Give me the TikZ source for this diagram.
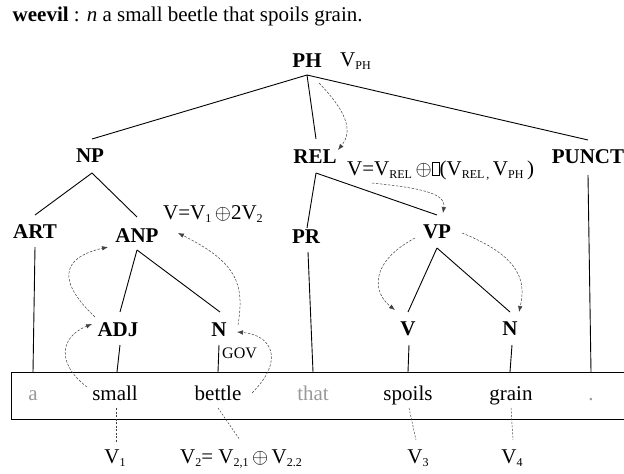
\documentclass[tikz,border=0pt]{standalone}
\usepackage{fontspec}
\setmainfont{Liberation Serif}
\usetikzlibrary{arrows.meta}
\newcommand\sbs[1]{\raisebox{-3pt}{\fontsize{12}{12}\selectfont #1}}
\newcommand\ebox{{\setlength\fboxsep{0pt}\setlength\fboxrule{0.5pt}\fbox{\rule{0pt}{13pt}\hspace{7pt}}}}
\begin{document}
\begin{tikzpicture}[x=1pt,y=-1pt,
  txt/.style={font=\fontsize{21}{21}\selectfont, inner sep=0pt, anchor=base},
  lab/.style={font=\fontsize{21}{21}\selectfont\bfseries, inner sep=0pt, anchor=base},
  gword/.style={txt, text=black!40},
  small/.style={font=\fontsize{16}{16}\selectfont, inner sep=0pt, anchor=base west},
  edge/.style={line width=0.9pt},
  vline/.style={line width=0.5pt, draw=black!75, dash pattern=on 2pt off 1.5pt},
  dep/.style={line width=0.5pt, draw=black!75, dash pattern=on 2.5pt off 1.5pt,
     -{Latex[length=6pt,width=4.5pt]}}]
\useasboundingbox (0,0) rectangle (624,474);

% title
\node[txt, anchor=base west] (title) at (12.5,21.7)
  {\textbf{weevil} : \textit{n} a small beetle that spoils grain.};

% tree labels
\node[lab] (PH) at (307,67) {PH};
\node[txt, anchor=base west] (VPH) at (340,66.7) {V\sbs{PH}};
\node[lab] (NP) at (90,162) {NP};
\node[lab] (REL) at (315,163) {REL};
\node[lab] (PUNCT) at (588,163) {PUNCT};
\node[lab] (ART) at (35,238) {ART};
\node[lab] (ANP) at (137,242) {ANP};
\node[lab] (PR) at (306,243) {PR};
\node[lab] (VP) at (437,238) {VP};
\node[lab] (ADJ) at (118,336) {ADJ};
\node[lab] (N1) at (219,336) {N};
\node[lab] (V) at (408,335) {V};
\node[lab] (N2) at (510,335) {N};
\node[small] (GOV) at (222,358) {GOV};

% formulas
\node[txt, anchor=base west] (fANP) at (163,219.5)
  {V=V\sbs{1}\,$\oplus$2V\sbs{2}};
\node[txt, anchor=base west] (fREL) at (347,175)
  {V=V\sbs{REL}\,$\oplus$\ebox(V\sbs{REL\,,}\,V\sbs{PH}\,)};

% tree attachment points
\coordinate (PHb) at (307,75);
\coordinate (NPt) at (92,139);   \coordinate (NPb) at (92,173);
\coordinate (RELt) at (316,139); \coordinate (RELb) at (316,173);
\coordinate (PUt) at (588,140);  \coordinate (PUb) at (588,175);
\coordinate (ARTt) at (35,215);  \coordinate (ARTb) at (35,247);
\coordinate (ANPt) at (137,217); \coordinate (ANPb) at (137,250);
\coordinate (PRt) at (307,228);  \coordinate (PRb) at (308,252);
\coordinate (VPt) at (437,215);  \coordinate (VPb) at (437,248);
\coordinate (ADJt) at (120,312); \coordinate (ADJb) at (120,345);
\coordinate (N1t) at (220,312);  \coordinate (N1b) at (219,345);
\coordinate (Vt) at (408,312);   \coordinate (Vb) at (409,345);
\coordinate (N2t) at (510,312);  \coordinate (N2b) at (512,345);

% box
\coordinate (bxTR) at (623.9,372);
\coordinate (bxTL) at (11.7,372);
\coordinate (bxBL) at (11.7,419);
\coordinate (bxBR) at (623.9,419);
\draw[edge] (bxTR) -- (bxTL) -- (bxBL) -- (bxBR);

% words
\node[gword] (wa) at (33,400) {a};
\node[txt] (wsmall) at (115,400) {small};
\node[txt] (wbettle) at (218,400) {bettle};
\node[gword] (wthat) at (313,400) {that};
\node[txt] (wspoils) at (408,400) {spoils};
\node[txt] (wgrain) at (511,400) {grain};
\node[gword] (wdot) at (591,400) {.};

\coordinate (ka) at (33,372);
\coordinate (ksmall) at (117,372);
\coordinate (kbettle) at (218,372);
\coordinate (kthat) at (313,372);
\coordinate (kspoils) at (408,372);
\coordinate (kgrain) at (510,372);
\coordinate (kdot) at (591,372);

% tree edges
\draw[edge] (PHb) -- (NPt);
\draw[edge] (PHb) -- (RELt);
\draw[edge] (PHb) -- (PUt);
\draw[edge] (NPb) -- (ARTt);
\draw[edge] (NPb) -- (ANPt);
\draw[edge] (RELb) -- (PRt);
\draw[edge] (RELb) -- (VPt);
\draw[edge] (ANPb) -- (ADJt);
\draw[edge] (ANPb) -- (N1t);
\draw[edge] (VPb) -- (Vt);
\draw[edge] (VPb) -- (N2t);

% links to words
\draw[edge] (ARTb) -- (ka);
\draw[edge] (ADJb) -- (ksmall);
\draw[edge] (N1b) -- (kbettle);
\draw[edge] (PRb) -- (kthat);
\draw[edge] (Vb) -- (kspoils);
\draw[edge] (N2b) -- (kgrain);
\draw[edge] (PUb) -- (kdot);

% bottom values
\node[txt] (V1) at (115,463.3) {V\sbs{1}};
\node[txt] (V2) at (241,463.3) {V\sbs{2}= V\sbs{2,1}\,$\oplus$\,V\sbs{2.2}};
\node[txt] (V3) at (418,463.3) {V\sbs{3}};
\node[txt] (V4) at (512,463.3) {V\sbs{4}};

\coordinate (dsmall) at (116,408);  \coordinate (eV1) at (116,442);
\coordinate (dbettle) at (218,408); \coordinate (eV2) at (240,440);
\coordinate (dspoils) at (409,408); \coordinate (eV3) at (416,440);
\coordinate (dgrain) at (511,408);  \coordinate (eV4) at (513,440);
\draw[vline] (dsmall) -- (eV1);
\draw[vline] (dbettle) -- (eV2);
\draw[vline] (dspoils) -- (eV3);
\draw[vline] (dgrain) -- (eV4);

% dependency arrows
\coordinate (a1s) at (319,83);  \coordinate (a1e) at (338,150);
\draw[dep] (a1s) .. controls (345,110) and (354,130) .. (a1e);
\coordinate (a2s) at (372,183); \coordinate (a2e) at (443,213);
\draw[dep] (a2s) .. controls (420,188) and (446,193) .. (a2e);
\coordinate (a3s) at (415,238); \coordinate (a3e) at (395,310);
\draw[dep] (a3s) .. controls (370,262) and (372,292) .. (a3e);
\coordinate (a4s) at (462,233); \coordinate (a4e) at (519,312);
\draw[dep] (a4s) .. controls (525,258) and (525,285) .. (a4e);
\coordinate (a5s) at (87,387);  \coordinate (a5e) at (92,324);
\draw[dep] (a5s) .. controls (58,365) and (58,338) .. (a5e);
\coordinate (a6s) at (252,393); \coordinate (a6e) at (237,332);
\draw[dep] (a6s) .. controls (285,360) and (272,335) .. (a6e);
\coordinate (a7s) at (95,317);  \coordinate (a7e) at (108,247);
\draw[dep] (a7s) .. controls (58,282) and (60,258) .. (a7e);
\coordinate (a8s) at (238,325); \coordinate (a8e) at (178,233);
\draw[dep] (a8s) .. controls (245,283) and (236,262) .. (a8e);
\end{tikzpicture}
\end{document}
